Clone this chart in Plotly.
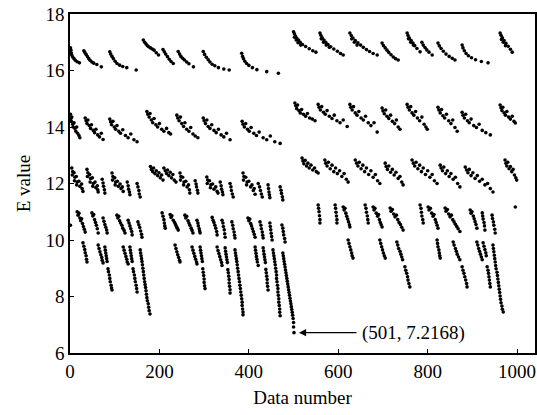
import plotly.graph_objects as go

# ---- data (data number, E value) ----
top_band = [
    (1,16.80),(2,16.72),(3,16.62),(4,16.55),(6,16.48),(9,16.42),(12,16.36),(16,16.31),(21,16.27),
    (31,16.70),(33,16.64),(36,16.57),(39,16.49),(42,16.42),(45,16.36),(49,16.30),(53,16.26),(60,16.21),(70,16.13),
    (89,16.66),(91,16.58),(94,16.50),(97,16.42),(101,16.33),(105,16.25),(111,16.19),(118,16.14),(127,16.10),(148,16.02),
    (164,17.08),(167,17.00),(170,16.94),(173,16.88),(176,16.84),(180,16.80),(184,16.76),(188,16.72),(193,16.63),(198,16.55),
    (208,16.74),(211,16.66),(214,16.58),(218,16.49),(222,16.40),(226,16.32),(231,16.25),
    (242,16.67),(245,16.58),(248,16.50),(252,16.43),(256,16.37),(261,16.30),(266,16.24),(276,16.13),
    (298,16.67),(301,16.57),(305,16.47),(309,16.38),(313,16.30),(318,16.22),(324,16.17),(332,16.10),(344,16.05),(356,16.02),
    (384,16.61),(386,16.50),(388,16.42),(391,16.33),(395,16.25),(400,16.18),(408,16.10),(418,16.03),(440,15.96),(466,15.90),
    (500,17.37),(502,17.30),(504,17.22),(507,17.15),(511,17.08),(515,17.00),(520,16.92),(527,16.85),(535,16.77),(543,16.70),(550,16.65),
    (502,17.18),(506,17.08),(510,16.98),(516,16.90),
    (559,17.33),(561,17.25),(564,17.16),(568,17.08),(572,17.00),(577,16.92),(583,16.84),(590,16.76),(598,16.68),(605,16.60),(611,16.55),
    (562,17.12),(567,17.00),(573,16.90),(580,16.82),
    (626,17.33),(629,17.24),(633,17.15),(638,17.06),(644,16.98),(650,16.90),(656,16.82),(663,16.74),(670,16.67),(678,16.60),(687,16.55),
    (630,17.12),(636,17.00),(642,16.90),
    (698,16.97),(701,16.88),(705,16.80),(709,16.72),(713,16.64),(718,16.56),(723,16.48),(728,16.42),(734,16.37),
    (754,17.33),(756,17.24),(759,17.15),(763,17.06),(767,16.97),(771,16.88),(776,16.78),(783,16.66),
    (757,17.12),(762,17.00),(768,16.90),
    (787,17.00),(790,16.90),(794,16.81),(798,16.73),(803,16.65),(810,16.55),
    (823,16.97),(826,16.87),(830,16.78),(835,16.68),(841,16.58),(848,16.50),(855,16.43),(861,16.37),
    (877,16.90),(879,16.80),(882,16.70),(886,16.60),(891,16.52),(898,16.45),(907,16.38),(920,16.32),(935,16.27),
    (962,17.33),(964,17.25),(967,17.16),(971,17.06),(975,16.96),(980,16.86),(985,16.75),(989,16.65),
    (965,17.10),(969,17.00),(974,16.88),
]

band_14 = [
    (1,14.45),(2,14.30),(3,14.20),(4,14.35),(6,14.10),(7,14.00),(9,14.15),(11,13.95),(13,13.85),(15,14.00),(17,13.78),(20,13.70),(22,13.62),
    (34,14.32),(36,14.22),(38,14.12),(40,14.25),(43,14.05),(46,13.95),(48,14.08),(52,13.88),(55,13.80),(58,13.92),(62,13.72),(66,13.65),(70,13.78),(74,13.56),
    (89,14.28),(91,14.18),(93,14.08),(96,14.20),(99,14.00),(102,13.92),(105,14.05),(109,13.85),(113,13.78),(118,13.90),(124,13.70),(130,13.62),(136,13.75),(143,13.55),(150,13.48),
    (172,14.55),(174,14.45),(177,14.35),(179,14.48),(182,14.25),(185,14.15),(188,14.30),(192,14.08),(196,14.00),(200,14.12),(205,13.92),(210,13.85),(216,13.95),(221,13.80),(225,13.75),
    (239,14.42),(241,14.32),(244,14.22),(247,14.35),(250,14.12),(254,14.02),(257,14.15),(261,13.92),(266,13.85),(270,13.98),(275,13.75),(280,13.68),(286,13.62),
    (298,14.32),(300,14.22),(303,14.12),(306,14.25),(309,14.02),(313,13.95),(317,14.08),(322,13.88),(327,13.80),(332,13.92),(338,13.72),(344,13.65),(350,13.78),(358,13.55),
    (385,14.20),(387,14.10),(390,14.00),(393,14.12),(397,13.92),(401,13.85),(405,13.98),(411,13.78),(417,13.70),(423,13.82),(432,13.62),(440,13.55),(448,13.68),(458,13.48),(470,13.42),
    (503,14.85),(505,14.75),(507,14.65),(509,14.78),(512,14.58),(515,14.50),(518,14.62),(522,14.45),(527,14.38),(531,14.48),(536,14.32),(542,14.28),(548,14.22),
    (555,14.80),(557,14.70),(560,14.60),(563,14.72),(567,14.52),(571,14.45),(575,14.58),(580,14.38),(586,14.30),(591,14.42),(597,14.22),(604,14.15),(611,14.25),(620,14.02),
    (626,14.80),(628,14.70),(631,14.60),(634,14.72),(638,14.50),(642,14.42),(646,14.55),(651,14.32),(656,14.25),(661,14.38),(667,14.15),(673,14.05),(680,14.15),(687,13.82),
    (698,14.67),(700,14.57),(703,14.47),(706,14.60),(709,14.38),(713,14.30),(717,14.42),(721,14.20),(726,14.12),(730,14.25),(734,14.00),(738,13.92),
    (754,14.80),(756,14.70),(759,14.60),(762,14.72),(765,14.50),(769,14.42),(773,14.55),(777,14.32),(782,14.22),(787,14.35),(792,14.10),(796,14.00),(799,13.92),
    (823,14.70),(825,14.60),(828,14.50),(831,14.62),(834,14.40),(838,14.32),(842,14.45),(847,14.22),(852,14.12),(856,14.25),(861,13.98),(866,13.85),
    (877,14.52),(879,14.42),(882,14.32),(885,14.45),(889,14.22),(893,14.15),(897,14.28),(903,14.05),(909,13.98),(915,14.10),(922,13.88),(930,13.80),(940,13.72),
    (962,14.78),(964,14.68),(966,14.58),(968,14.70),(971,14.50),(974,14.42),(977,14.55),(981,14.35),(985,14.28),(989,14.38),(993,14.20),(996,14.14),
]

band_12 = [
    (4,12.55),(6,12.42),(5,12.30),(9,12.38),(11,12.22),(10,12.10),(14,12.25),(16,12.05),(15,11.95),(20,12.08),(22,11.90),(26,11.98),(27,11.82),(29,11.72),
    (38,12.50),(40,12.38),(39,12.25),(44,12.32),(46,12.18),(45,12.05),(50,12.20),(52,12.00),(51,11.90),(56,12.05),(58,11.85),(61,11.92),(62,11.78),(63,11.70),
    (72,12.15),(74,12.02),(75,11.90),(77,11.78),(78,11.66),
    (94,12.37),(96,12.25),(95,12.12),(100,12.20),(102,12.05),(101,11.95),(106,12.08),(108,11.90),(112,11.98),(114,11.82),(117,11.88),(119,11.72),
    (128,12.05),(130,11.92),(131,11.80),(133,11.70),(134,11.60),
    (150,12.00),(152,11.88),(154,11.75),(155,11.63),(157,11.52),
    (180,12.60),(182,12.50),(185,12.42),(187,12.55),(190,12.35),(193,12.45),(196,12.28),(199,12.38),(202,12.20),(205,12.30),(208,12.12),
    (210,12.55),(213,12.45),(216,12.35),(218,12.48),(221,12.28),(224,12.40),(227,12.20),(230,12.32),(233,12.12),(237,12.05),
    (246,12.37),(248,12.25),(247,12.12),(252,12.22),(255,12.05),(254,11.95),(259,12.08),(262,11.88),(265,11.95),(267,11.78),(268,11.66),
    (280,12.10),(282,11.98),(283,11.88),(285,11.76),(286,11.66),
    (306,12.23),(308,12.12),(307,12.00),(312,12.10),(315,11.95),(314,11.85),(319,11.98),(322,11.80),(326,11.88),(329,11.72),(331,11.66),
    (336,12.05),(338,11.92),(339,11.80),(341,11.70),(342,11.60),
    (358,12.00),(360,11.88),(361,11.75),(363,11.63),(365,11.52),
    (387,12.37),(389,12.25),(388,12.12),(393,12.22),(396,12.05),(395,11.95),(400,12.08),(404,11.88),(407,11.95),(410,11.75),(412,11.82),(414,11.62),
    (421,12.00),(424,11.88),(426,11.75),(428,11.63),(430,11.52),
    (443,11.95),(444,11.82),(445,11.70),(446,11.60),(447,11.50),
    (470,11.88),(472,11.76),(473,11.65),(475,11.53),(476,11.42),
    (519,12.90),(521,12.80),(523,12.70),(526,12.82),(529,12.62),(532,12.72),(535,12.55),(539,12.65),(543,12.48),(547,12.55),(551,12.42),(555,12.37),
    (570,12.83),(572,12.72),(575,12.62),(578,12.75),(582,12.52),(586,12.65),(590,12.42),(594,12.55),(598,12.35),(603,12.45),(608,12.25),(613,12.35),(618,12.15),(622,12.05),
    (638,12.83),(641,12.72),(644,12.62),(647,12.75),(651,12.52),(655,12.65),(659,12.42),(663,12.55),(668,12.32),(673,12.45),(678,12.22),(683,12.32),(688,12.10),(693,12.00),
    (705,12.72),(707,12.60),(710,12.50),(713,12.62),(717,12.40),(721,12.50),(725,12.30),(729,12.40),(734,12.18),(738,12.25),(742,12.05),(745,11.95),
    (765,12.83),(768,12.72),(771,12.62),(774,12.75),(778,12.52),(782,12.65),(786,12.42),(790,12.55),(795,12.32),(800,12.45),(805,12.22),(810,12.32),(815,12.10),(821,12.00),
    (828,12.65),(830,12.55),(833,12.45),(836,12.58),(840,12.35),(844,12.45),(848,12.25),(852,12.35),(857,12.15),(862,12.22),(867,12.00),(872,11.88),
    (884,12.58),(887,12.48),(890,12.38),(893,12.50),(897,12.28),(901,12.38),(906,12.18),(911,12.28),(916,12.08),(922,12.15),(928,11.95),(934,12.00),(940,11.82),(946,11.70),
    (973,12.83),(975,12.72),(977,12.62),(979,12.75),(982,12.52),(985,12.60),(988,12.42),(991,12.50),(994,12.30),(997,12.20),(999,12.12),
]

band_10 = [
    (1,10.52),
    (16,11.00),(18,10.88),(20,10.95),(22,10.78),(24,10.68),(26,10.75),(28,10.58),(30,10.48),(32,10.38),(34,10.28),
    (49,10.96),(51,10.85),(53,10.90),(55,10.72),(57,10.62),(59,10.52),(61,10.40),(63,10.25),
    (74,10.78),(76,10.66),(78,10.55),(80,10.45),(82,10.35),(83,10.25),
    (105,10.88),(107,10.78),(109,10.84),(111,10.68),(113,10.60),(116,10.52),(118,10.42),(121,10.34),(123,10.25),
    (130,10.70),(132,10.60),(134,10.50),(136,10.40),(138,10.30),(139,10.18),
    (152,10.64),(154,10.54),(156,10.44),(158,10.32),(160,10.20),(161,10.10),
    (206,10.96),(208,10.84),(210,10.72),(211,10.60),(212,10.50),(213,10.42),
    (224,10.90),(226,10.80),(228,10.86),(231,10.70),(234,10.62),(236,10.55),(238,10.48),(240,10.42),(242,10.35),
    (257,10.88),(259,10.78),(261,10.84),(264,10.68),(266,10.60),(268,10.52),(271,10.42),(273,10.34),(275,10.25),
    (284,10.70),(286,10.60),(287,10.50),(289,10.40),(290,10.32),(291,10.25),
    (318,10.80),(320,10.70),(322,10.62),(324,10.52),(326,10.42),(328,10.30),(329,10.18),
    (340,10.70),(342,10.60),(343,10.48),(345,10.36),(346,10.22),(347,10.10),
    (362,10.64),(364,10.52),(365,10.40),(367,10.28),(368,10.17),(369,10.07),
    (398,10.78),(400,10.68),(402,10.74),(404,10.58),(406,10.50),(408,10.40),(410,10.30),(412,10.20),(414,10.10),
    (425,10.64),(427,10.52),(428,10.40),(430,10.28),(431,10.17),(432,10.07),
    (447,10.60),(448,10.48),(449,10.36),(450,10.24),(451,10.12),(452,10.00),
    (474,10.53),(476,10.42),(477,10.30),(478,10.18),(480,10.05),(481,9.93),
    (555,11.24),(556,11.12),(557,11.00),(558,10.86),(559,10.72),(559,10.60),
    (593,11.24),(594,11.12),(595,10.98),(596,10.85),(597,10.72),(597,10.60),
    (611,11.17),(613,11.06),(615,11.12),(617,10.95),(619,10.84),(621,10.74),(623,10.64),(625,10.54),(626,10.46),
    (660,11.24),(662,11.12),(663,10.98),(665,10.85),(666,10.72),(667,10.60),
    (678,11.17),(680,11.06),(682,11.12),(685,10.95),(688,10.84),(690,10.90),(692,10.72),(694,10.62),(696,10.54),(698,10.46),
    (716,11.13),(718,11.02),(721,11.08),(724,10.92),(727,10.82),(730,10.88),(733,10.72),(736,10.62),(739,10.55),(742,10.45),(745,10.35),
    (783,11.24),(785,11.12),(786,10.98),(787,10.85),(789,10.72),(790,10.60),
    (801,11.17),(803,11.06),(806,11.12),(809,10.95),(812,10.84),(814,10.90),(817,10.72),(819,10.62),(821,10.52),(823,10.42),
    (839,11.13),(841,11.02),(844,11.08),(847,10.92),(850,10.82),(853,10.88),(856,10.72),(859,10.64),(862,10.56),(865,10.48),(868,10.40),(872,10.30),
    (895,11.06),(897,10.95),(899,11.00),(902,10.85),(904,10.75),(906,10.65),(908,10.55),(910,10.42),
    (922,10.96),(923,10.85),(924,10.74),(926,10.62),(927,10.50),(928,10.35),
    (944,10.88),(945,10.76),(947,10.64),(948,10.52),(950,10.38),(951,10.25),
    (996,11.17),
]

lower_band = [
    (29,9.90),(31,9.78),(33,9.66),(34,9.55),(36,9.44),(37,9.32),(38,9.22),
    (63,9.82),(65,9.70),(67,9.58),(69,9.48),(71,9.38),(72,9.28),(74,9.19),
    (78,9.75),(79,9.64),(80,9.54),(81,9.44),(82,9.34),(83,9.24),(85,8.98),(86,8.88),(88,8.76),(89,8.64),(90,8.52),(92,8.40),(93,8.30),(94,8.23),
    (119,9.75),(121,9.64),(123,9.53),(125,9.42),(127,9.32),(128,9.22),(130,9.15),
    (134,9.75),(135,9.64),(136,9.54),(137,9.44),(138,9.34),(139,9.24),(141,8.98),(142,8.88),(144,8.76),(145,8.64),(146,8.52),(148,8.40),(149,8.28),(150,8.16),
    (157,9.65),(158,9.54),(159,9.44),(160,9.34),(161,9.24),(162,9.12),(163,9.00),(164,8.88),(165,8.76),(166,8.64),(167,8.52),(168,8.42),(169,8.32),(170,8.20),(171,8.08),(172,7.96),(173,7.85),(175,7.74),(176,7.62),(177,7.50),(179,7.38),
    (235,9.82),(237,9.70),(239,9.58),(241,9.48),(243,9.38),(245,9.28),(246,9.22),
    (273,9.75),(275,9.64),(277,9.53),(279,9.42),(281,9.32),(283,9.22),(284,9.15),
    (291,9.75),(292,9.64),(293,9.54),(294,9.44),(295,9.34),(296,9.24),(297,8.98),(298,8.86),(299,8.74),(300,8.62),(300,8.50),(301,8.38),(302,8.28),
    (329,9.75),(331,9.63),(333,9.52),(335,9.41),(337,9.30),(339,9.20),(340,9.10),
    (347,9.72),(348,9.60),(349,9.50),(350,9.40),(351,9.30),(352,9.20),(353,8.95),(354,8.84),(355,8.72),(356,8.60),(356,8.48),(357,8.36),(358,8.24),(358,8.12),
    (369,9.65),(370,9.54),(371,9.44),(372,9.34),(373,9.24),(374,9.12),(375,9.00),(376,8.88),(377,8.76),(378,8.64),(379,8.52),(380,8.40),(381,8.28),(382,8.16),(383,8.04),(384,7.92),(385,7.80),(385,7.68),(386,7.56),(387,7.45),(387,7.35),
    (414,9.75),(415,9.64),(416,9.53),(417,9.42),(418,9.32),(419,9.22),(421,9.10),
    (432,9.72),(433,9.61),(434,9.50),(435,9.40),(436,9.30),(437,9.20),(438,8.96),(439,8.84),(440,8.72),(441,8.60),(441,8.48),(442,8.36),(443,8.23),
    (454,9.65),(455,9.54),(456,9.44),(457,9.34),(458,9.23),(459,9.12),(460,9.00),(461,8.88),(462,8.76),(462,8.64),(463,8.52),(464,8.40),(465,8.28),(465,8.16),(466,8.04),(467,7.92),(467,7.80),(468,7.68),(469,7.56),(469,7.44),(470,7.32),
    (476,9.54),(477,9.44),(478,9.34),(479,9.24),(480,9.14),(481,9.04),(482,8.94),(483,8.84),(484,8.74),(485,8.64),(486,8.54),(487,8.44),(488,8.34),(489,8.24),(490,8.14),(491,8.04),(492,7.94),(493,7.84),(494,7.74),(495,7.64),(496,7.54),(497,7.44),(498,7.34),(499,7.22),(500,7.08),(500,6.92),(501,6.72),
    (622,10.00),(624,9.88),(626,9.76),(628,9.65),(630,9.54),(631,9.44),(633,9.36),
    (693,10.00),(695,9.88),(697,9.76),(699,9.65),(701,9.54),(703,9.44),(705,9.36),
    (731,9.93),(733,9.82),(735,9.70),(738,9.60),(740,9.50),(742,9.40),(744,9.30),(749,9.05),(751,8.93),(753,8.82),(755,8.70),(756,8.58),(758,8.46),(760,8.34),
    (821,10.00),(822,9.88),(823,9.76),(825,9.65),(826,9.54),(827,9.44),(828,9.36),
    (857,9.93),(859,9.82),(862,9.70),(864,9.60),(866,9.50),(869,9.40),(872,9.30),(877,9.05),(879,8.93),(881,8.82),(883,8.70),(885,8.58),(887,8.46),(888,8.34),
    (910,9.93),(912,9.82),(914,9.70),(916,9.60),(918,9.50),(920,9.40),(922,9.30),
    (924,9.90),(926,9.78),(928,9.66),(930,9.55),(931,9.44),(933,9.05),(935,8.93),(936,8.82),(937,8.70),(938,8.58),(939,8.46),(940,8.34),
    (946,9.82),(947,9.70),(948,9.58),(949,9.46),(950,9.34),(951,9.22),(952,9.10),(953,8.98),(955,8.86),(956,8.74),(957,8.62),(958,8.50),(959,8.38),(960,8.26),(961,8.14),(962,8.02),(963,7.90),(964,7.78),(966,7.66),(967,7.55),(969,7.45),
]

x_ticks = [0, 200, 400, 600, 800, 1000]
y_ticks = [6, 8, 10, 12, 14, 16, 18]
min_point = (501, 6.72)
min_label = "(501, 7.2168)"

FONT = "Liberation Serif"

fig = go.Figure()
for band in (top_band, band_14, band_12, band_10, lower_band):
    fig.add_trace(go.Scatter(
        x=[p[0] for p in band], y=[p[1] for p in band], mode="markers",
        marker=dict(color="black", size=3.6, line=dict(width=0)),
        showlegend=False, hoverinfo="skip"))

# arrow pointing at the minimum point
fig.add_annotation(x=min_point[0] + 11, y=min_point[1], ax=min_point[0] + 143, ay=min_point[1],
                   xref="x", yref="y", axref="x", ayref="y", text="",
                   showarrow=True, arrowhead=2, arrowsize=1.2, arrowwidth=1.2, arrowcolor="black")
fig.add_annotation(x=min_point[0] + 148, y=min_point[1], xref="x", yref="y",
                   text=min_label, showarrow=False, xanchor="left", yanchor="middle",
                   font=dict(family=FONT, size=19, color="black"))

axis_common = dict(showline=True, linecolor="black", linewidth=1.5, mirror=True,
                   ticks="inside", ticklen=4, tickcolor="black", showgrid=False, zeroline=False,
                   automargin=False,
                   tickfont=dict(family=FONT, size=19, color="black"))
fig.update_xaxes(range=[0, 1040], tickvals=x_ticks, **axis_common,
                 title=dict(text="Data number", font=dict(family=FONT, size=19, color="black"), standoff=10))
fig.update_yaxes(range=[6, 18], tickvals=y_ticks, **axis_common,
                 title=dict(text="E value", font=dict(family=FONT, size=19, color="black"), standoff=10))

fig.update_layout(width=537, height=415, margin=dict(l=70, r=2, t=14, b=62),
                  plot_bgcolor="white", paper_bgcolor="white")
# remove the default page margin so the figure fills the window exactly
fig.write_html("out.html", config={"displayModeBar": False},
               post_script="document.body.style.margin='0';document.body.style.overflow='hidden';")
